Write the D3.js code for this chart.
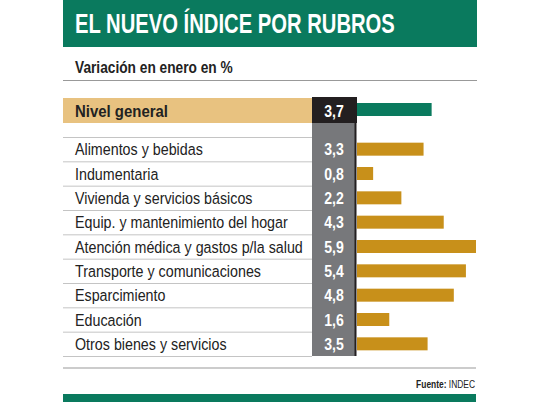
<!DOCTYPE html>
<html>
<head>
<meta charset="utf-8">
<script src="https://cdn.jsdelivr.net/npm/d3@7"></script>
<style>
  body { margin: 0; background: #fff; }
  svg text { font-family: "Liberation Sans", Arial, sans-serif; }
</style>
</head>
<body>
<div id="chart"></div>
<script>
// data
const title = "EL NUEVO ÍNDICE POR RUBROS";
const subtitle = "Variación en enero en %";
const totalLabel = "Nivel general";
const totalValue = 3.7;
const categories = [
  "Alimentos y bebidas",
  "Indumentaria",
  "Vivienda y servicios básicos",
  "Equip. y mantenimiento del hogar",
  "Atención médica y gastos p/la salud",
  "Transporte y comunicaciones",
  "Esparcimiento",
  "Educación",
  "Otros bienes y servicios"
];
const values = [3.3, 0.8, 2.2, 4.3, 5.9, 5.4, 4.8, 1.6, 3.5];
const source = "INDEC";

const W = 540, H = 405;
const green = "#0a7a5e", gold = "#c8901a", tan = "#e8c280", gray = "#77787b";
const fmt = v => d3.format(".1f")(v).replace(".", ",");

const svg = d3.select("#chart").append("svg")
  .attr("width", W).attr("height", H);

// no condensed face installed: squeeze text horizontally instead
function squeeze(sel, x, y, s) {
  sel.attr("x", 0).attr("y", 0).attr("transform", `translate(${x},${y}) scale(${s},1)`);
}
function fitScale(sel, target) {
  let w = 0;
  sel.each(function () { w = Math.max(w, this.getComputedTextLength()); });
  return target / w;
}

// header
svg.append("rect").attr("x", 63).attr("y", 0).attr("width", 414).attr("height", 47).attr("fill", green);
const t = svg.append("text").attr("fill", "#fff").attr("font-size", 27).attr("font-weight", "bold").text(title);
squeeze(t, 75, 33, fitScale(t, 320));

const st = svg.append("text").attr("fill", "#222").attr("font-size", 16.5).attr("font-weight", "bold").text(subtitle);
squeeze(st, 75, 72.5, fitScale(st, 158));
svg.append("line").attr("x1", 63).attr("x2", 477).attr("y1", 80.5).attr("y2", 80.5)
  .attr("stroke", "#999").attr("stroke-width", 1.2);

// scales
const x = d3.scaleLinear().domain([0, d3.max(values)]).range([357, 476]);
const y = d3.scaleBand().domain(categories).range([137, 356]);
const barH = 13;

// gray value column
svg.append("rect").attr("x", 312).attr("y", 123).attr("width", 43).attr("height", 356 - 123).attr("fill", gray);

// total row
svg.append("rect").attr("x", 63).attr("y", 98).attr("width", 249).attr("height", 25).attr("fill", tan);
svg.append("rect").attr("x", 312).attr("y", 97).attr("width", 45).attr("height", 26).attr("fill", "#231f20");
svg.append("rect").attr("x", x(0)).attr("y", 103).attr("width", x(totalValue) - x(0)).attr("height", 13).attr("fill", green);
const tl = svg.append("text").attr("fill", "#222").attr("font-size", 17).attr("font-weight", "bold").text(totalLabel);
squeeze(tl, 75, 117, fitScale(tl, 93));
const tv = svg.append("text").attr("text-anchor", "middle")
  .attr("fill", "#fff").attr("font-size", 16).attr("font-weight", "bold").text(fmt(totalValue));
squeeze(tv, 334, 116.5, 0.88);

// separators
const seps = categories.map(c => y(c)).concat([y.range()[1]]);
svg.selectAll(".sep").data(seps).enter().append("line")
  .attr("x1", 63).attr("x2", 312)
  .attr("y1", d => d + 0.5).attr("y2", d => d + 0.5)
  .attr("stroke", "#c4c4c4").attr("stroke-width", 1);

const rows = svg.selectAll(".row").data(categories).enter().append("g")
  .attr("transform", d => `translate(0,${y(d) + y.bandwidth() / 2})`);

const labels = rows.append("text")
  .attr("fill", "#222").attr("font-size", 16.5).text(d => d);
squeeze(labels, 75, 6, fitScale(labels, 228));

const vals = rows.append("text").attr("text-anchor", "middle")
  .attr("fill", "#fff").attr("font-size", 16).attr("font-weight", "bold")
  .text((d, i) => fmt(values[i]));
squeeze(vals, 334, 6, 0.88);

rows.append("rect").attr("x", x(0)).attr("y", -barH / 2)
  .attr("width", (d, i) => x(values[i]) - x(0)).attr("height", barH)
  .attr("fill", gold);

// dark rule at right of value column
svg.append("line").attr("x1", 355.5).attr("x2", 355.5).attr("y1", 97).attr("y2", 356)
  .attr("stroke", "#231f20").attr("stroke-width", 2);

// footer
svg.append("line").attr("x1", 63).attr("x2", 476).attr("y1", 368).attr("y2", 368)
  .attr("stroke", "#999").attr("stroke-width", 1.2);
const src = svg.append("text").attr("text-anchor", "end")
  .attr("fill", "#222").attr("font-size", 10.5);
src.append("tspan").attr("font-weight", "bold").text("Fuente: ");
src.append("tspan").text(source);
squeeze(src, 475, 388, fitScale(src, 59));
svg.append("rect").attr("x", 63).attr("y", 394).attr("width", 413).attr("height", 8).attr("fill", green);
</script>
</body>
</html>
